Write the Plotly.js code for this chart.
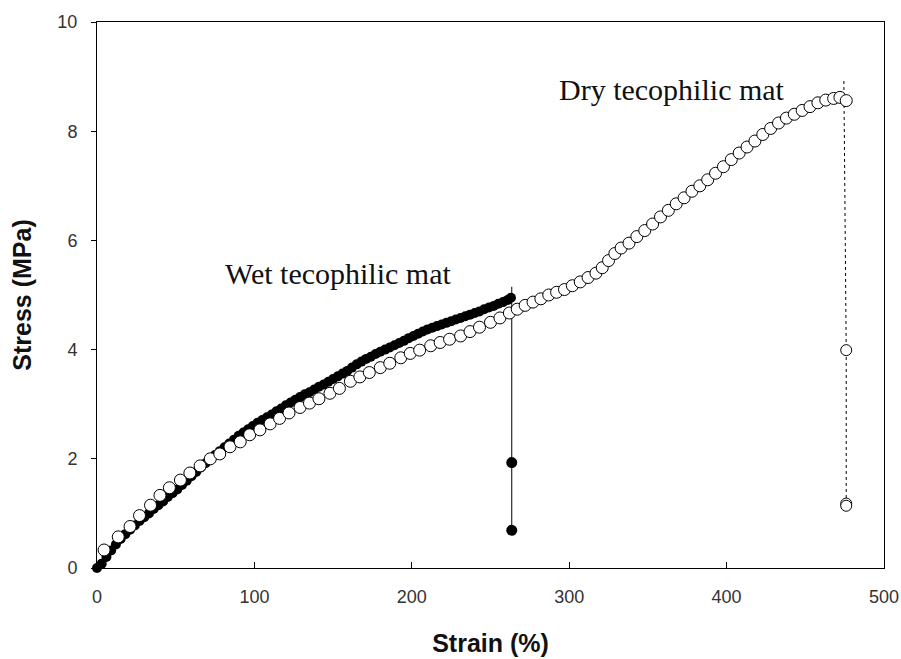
<!DOCTYPE html>
<html>
<head>
<meta charset="utf-8">
<script src="https://cdn.plot.ly/plotly-3.0.1.min.js"></script>
<style>html,body{margin:0;padding:0;background:#fff;}#chart{width:901px;height:659px;}</style>
</head>
<body>
<div id="chart"></div>
<script>
// Wet tecophilic mat (filled circles)
const wetStrain = [0,3,6,9,12,15,18,21,24,27,30,33,36,39,42,45,48,51,54,57,60,63,66,69,72,75,78,81,84,87,90,93,96,99,102,105,108,111,114,117,120,123,126,129,132,135,138,141,144,147,150,153,156,159,162,165,168,171,174,177,180,183,186,189,192,195,198,201,204,207,210,213,216,219,222,225,228,231,234,237,240,243,246,249,252,255,258,261,263];
const wetStress = [0,0.08,0.2,0.32,0.43,0.53,0.62,0.7,0.78,0.86,0.93,1.0,1.08,1.15,1.22,1.3,1.37,1.44,1.52,1.6,1.68,1.76,1.84,1.92,2.0,2.07,2.14,2.21,2.28,2.35,2.42,2.48,2.54,2.6,2.66,2.71,2.76,2.81,2.87,2.92,2.98,3.03,3.08,3.13,3.18,3.22,3.27,3.32,3.36,3.41,3.46,3.51,3.56,3.61,3.67,3.73,3.78,3.83,3.87,3.92,3.96,4.0,4.04,4.08,4.12,4.16,4.21,4.25,4.29,4.33,4.37,4.4,4.43,4.46,4.49,4.52,4.55,4.58,4.61,4.64,4.67,4.7,4.74,4.77,4.8,4.84,4.87,4.91,4.95];
// Wet failure drop
const wetDropStrain = [263.5,263.5,263.5];
const wetDropStress = [5.15,1.93,0.69];

// Dry tecophilic mat (open circles)
const dryStrain = [4.5,13.5,21,27,34,40,46,53,59,65.5,72,78,84.5,91,97,103.5,110,116,122,129,135,141,148,154,161,167,173,180,186,193,199,205,212,218,224,231,237,243,250,256,262,267,272,277,282,287,292,297,302,307,312,317,321,325,329,333,338,343,348,353,358,363,368,373,378,383,388,393,398,403,408,413,418,423,428,433,438,443,448,453,458,463,468,472,476];
const dryStress = [0.33,0.57,0.76,0.96,1.15,1.33,1.47,1.61,1.74,1.87,2.0,2.09,2.22,2.31,2.44,2.53,2.64,2.74,2.84,2.94,3.02,3.1,3.2,3.29,3.42,3.5,3.58,3.67,3.75,3.85,3.93,3.99,4.07,4.13,4.19,4.25,4.33,4.41,4.5,4.58,4.67,4.74,4.81,4.87,4.93,5.0,5.05,5.1,5.17,5.24,5.32,5.4,5.5,5.63,5.76,5.86,5.95,6.07,6.18,6.3,6.43,6.55,6.67,6.78,6.9,7.0,7.11,7.23,7.35,7.48,7.6,7.71,7.82,7.94,8.05,8.15,8.24,8.31,8.38,8.45,8.52,8.57,8.6,8.62,8.56];
// Dry failure drop
const dryDropStrain = [474.5,476,476,476];
const dryDropStress = [8.92,3.99,1.18,1.14];

const xTicks = [0,100,200,300,400,500];
const yTicks = [0,2,4,6,8,10];

const traces = [
  {x: wetDropStrain, y: wetDropStress, mode:'lines', line:{color:'#000', width:1}, hoverinfo:'skip', showlegend:false},
  {x: wetStrain, y: wetStress, mode:'markers', cliponaxis:false, marker:{symbol:'circle', size:10, color:'#000'}, name:'Wet', showlegend:false},
  {x: wetDropStrain.slice(1), y: wetDropStress.slice(1), mode:'markers', marker:{symbol:'circle', size:11, color:'#000'}, showlegend:false},
  {x: dryDropStrain, y: dryDropStress, mode:'lines', line:{color:'#000', width:1, dash:'dot'}, hoverinfo:'skip', showlegend:false},
  {x: dryStrain, y: dryStress, mode:'markers', marker:{symbol:'circle', size:12, color:'#fff', line:{color:'#000', width:1}}, name:'Dry', showlegend:false},
  {x: dryDropStrain.slice(1), y: dryDropStress.slice(1), mode:'markers', marker:{symbol:'circle', size:11, color:'#fff', line:{color:'#000', width:1}}, showlegend:false}
];

const layout = {
  width: 901, height: 659,
  margin: {l:97, r:17, t:22, b:91},
  paper_bgcolor:'#fff', plot_bgcolor:'#fff',
  showlegend:false,
  xaxis: {
    range:[0,500], tickvals:xTicks, ticktext:xTicks.map(String),
    showgrid:false, zeroline:false, showline:true, linecolor:'#000', linewidth:1, mirror:true,
    ticks:'inside', ticklen:6, tickcolor:'#000', ticklabelstandoff:12,
    tickfont:{family:'Liberation Sans, Arial, sans-serif', size:18, color:'#333'},
    title:{text:'<b>Strain (%)</b>', font:{family:'Liberation Sans, Arial, sans-serif', size:25, color:'#111'}, standoff:28}
  },
  yaxis: {
    range:[0,10], tickvals:yTicks, ticktext:yTicks.map(String),
    showgrid:false, zeroline:false, showline:true, linecolor:'#000', linewidth:1, mirror:true,
    ticks:'outside', ticklen:5, tickcolor:'#000', ticklabelstandoff:10,
    tickfont:{family:'Liberation Sans, Arial, sans-serif', size:18, color:'#333'},
    title:{text:'<b>Stress (MPa)</b>', font:{family:'Liberation Sans, Arial, sans-serif', size:25, color:'#111'}, standoff:18}
  },
  annotations: [
    {x:153.7, y:5.40, xref:'x', yref:'y', text:'Wet tecophilic mat', showarrow:false,
     font:{family:'Liberation Serif, Times New Roman, serif', size:30, color:'#111'}},
    {x:365.3, y:8.77, xref:'x', yref:'y', text:'Dry tecophilic mat', showarrow:false,
     font:{family:'Liberation Serif, Times New Roman, serif', size:30, color:'#111'}}
  ]
};

Plotly.newPlot('chart', traces, layout, {displayModeBar:false, staticPlot:true});
</script>
</body>
</html>
